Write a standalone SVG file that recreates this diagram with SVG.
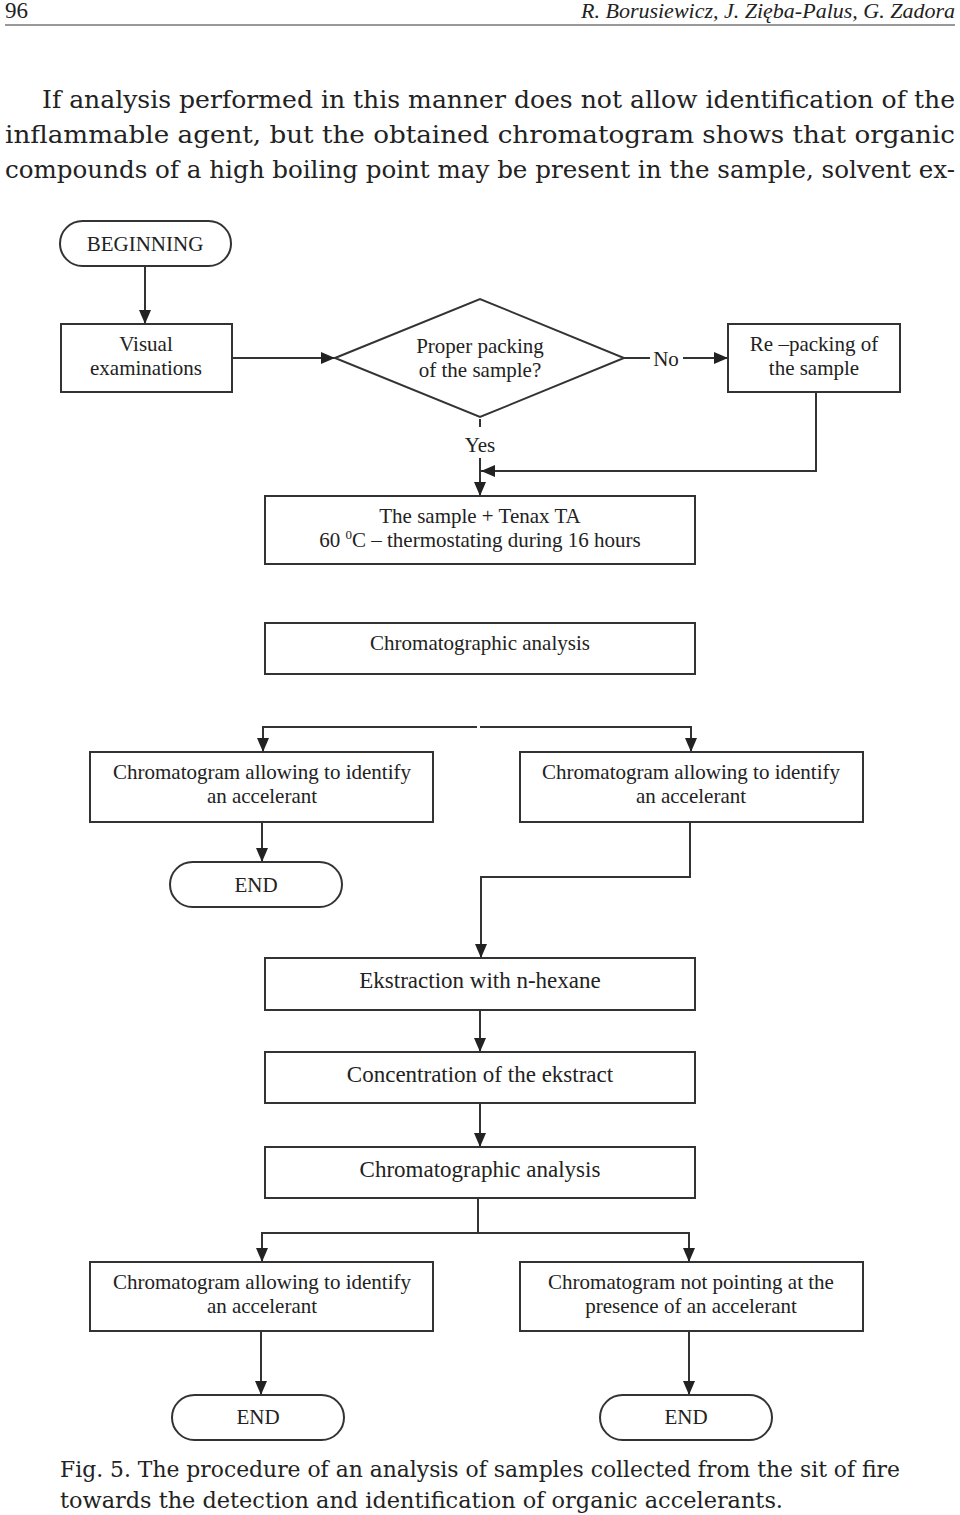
<svg xmlns="http://www.w3.org/2000/svg" width="960" height="1515" viewBox="0 0 960 1515">
<defs>
<marker id="ah" viewBox="0 0 14 12" refX="14" refY="6" markerWidth="14" markerHeight="12" markerUnits="userSpaceOnUse" orient="auto">
<path d="M0,0 L14,6 L0,12 Z" fill="#222"/>
</marker>
</defs>
<style>
.bx{fill:#fff;stroke:#333;stroke-width:2}
.ln{fill:none;stroke:#333;stroke-width:2}
.t{font-family:"Liberation Serif","Times New Roman",serif;font-size:21px;fill:#222;text-anchor:middle}
.tb{font-family:"Liberation Serif","Times New Roman",serif;font-size:23px;fill:#222;text-anchor:middle}
.p{font-family:"DejaVu Serif","Liberation Serif",serif;font-size:24px;fill:#222}
.c{font-family:"DejaVu Serif","Liberation Serif",serif;font-size:22px;fill:#222}
.h{font-family:"Liberation Serif","Times New Roman",serif;fill:#222}
</style>
<rect width="960" height="1515" fill="#fff"/>
<g id="header">
<text x="5" y="18" class="h" style="font-size:23px">96</text>
<text x="955" y="18" class="h" style="font-size:22px;font-style:italic;text-anchor:end">R. Borusiewicz, J. Zięba-Palus, G. Zadora</text>
<line x1="5" y1="25" x2="955" y2="25" stroke="#999" stroke-width="2"/>
</g>
<g id="paragraph">
<text x="42" y="108" class="p" textLength="913" lengthAdjust="spacingAndGlyphs">If analysis performed in this manner does not allow identification of the</text>
<text x="5" y="143" class="p" textLength="950" lengthAdjust="spacingAndGlyphs">inflammable agent, but the obtained chromatogram shows that organic</text>
<text x="5" y="178" class="p" textLength="950" lengthAdjust="spacingAndGlyphs">compounds of a high boiling point may be present in the sample, solvent ex-</text>
</g>
<g id="connectors">
<line class="ln" x1="145" y1="266" x2="145" y2="324" marker-end="url(#ah)"/>
<line class="ln" x1="232" y1="358" x2="335" y2="358" marker-end="url(#ah)"/>
<line class="ln" x1="624" y1="358" x2="650" y2="358"/>
<line class="ln" x1="683" y1="358" x2="728" y2="358" marker-end="url(#ah)"/>
<line class="ln" x1="480" y1="419" x2="480" y2="427"/>
<line class="ln" x1="480" y1="458" x2="480" y2="496" marker-end="url(#ah)"/>
<polyline class="ln" points="816,392 816,471 481,471" marker-end="url(#ah)"/>
<line class="ln" x1="262" y1="727" x2="477" y2="727"/>
<line class="ln" x1="480" y1="727" x2="692" y2="727"/>
<line class="ln" x1="263" y1="726" x2="263" y2="752" marker-end="url(#ah)"/>
<line class="ln" x1="691" y1="726" x2="691" y2="752" marker-end="url(#ah)"/>
<line class="ln" x1="262" y1="822" x2="262" y2="862" marker-end="url(#ah)"/>
<polyline class="ln" points="690,822 690,877 481,877 481,958" marker-end="url(#ah)"/>
<line class="ln" x1="480" y1="1010" x2="480" y2="1052" marker-end="url(#ah)"/>
<line class="ln" x1="480" y1="1103" x2="480" y2="1147" marker-end="url(#ah)"/>
<line class="ln" x1="478" y1="1198" x2="478" y2="1234"/>
<polyline class="ln" points="262,1262 262,1233 689,1233 689,1262"/>
<line class="ln" x1="262" y1="1240" x2="262" y2="1262" marker-end="url(#ah)"/>
<line class="ln" x1="689" y1="1240" x2="689" y2="1262" marker-end="url(#ah)"/>
<line class="ln" x1="261" y1="1331" x2="261" y2="1395" marker-end="url(#ah)"/>
<line class="ln" x1="689" y1="1331" x2="689" y2="1395" marker-end="url(#ah)"/>
</g>
<g id="beginning">
<rect class="bx" x="60" y="221" width="171" height="45" rx="22.5"/>
<text class="t" x="145" y="251">BEGINNING</text>
</g>
<g id="visual">
<rect class="bx" x="61" y="324" width="171" height="68"/>
<text class="t" x="146" y="351">Visual</text>
<text class="t" x="146" y="375">examinations</text>
</g>
<g id="decision">
<polygon class="bx" points="335,358 480,299 624,358 480,417"/>
<text class="t" x="480" y="353">Proper packing</text>
<text class="t" x="480" y="377">of the sample?</text>
<text class="t" x="666" y="366">No</text>
<text class="t" x="480" y="452">Yes</text>
</g>
<g id="repacking">
<rect class="bx" x="728" y="324" width="172" height="68"/>
<text class="t" x="814" y="351">Re –packing of</text>
<text class="t" x="814" y="375">the sample</text>
</g>
<g id="tenax">
<rect class="bx" x="265" y="496" width="430" height="68"/>
<text class="t" x="480" y="523">The sample + Tenax TA</text>
<text class="t" x="480" y="547">60 <tspan font-size="13" dy="-8">0</tspan><tspan dy="8">C – thermostating during 16 hours</tspan></text>
</g>
<g id="chrom1">
<rect class="bx" x="265" y="623" width="430" height="51"/>
<text class="t" x="480" y="650">Chromatographic analysis</text>
</g>
<g id="ident1">
<rect class="bx" x="90" y="752" width="343" height="70"/>
<text class="t" x="262" y="779">Chromatogram allowing to identify</text>
<text class="t" x="262" y="803">an accelerant</text>
</g>
<g id="ident2">
<rect class="bx" x="520" y="752" width="343" height="70"/>
<text class="t" x="691" y="779">Chromatogram allowing to identify</text>
<text class="t" x="691" y="803">an accelerant</text>
</g>
<g id="end1">
<rect class="bx" x="170" y="862" width="172" height="45" rx="22.5"/>
<text class="t" x="256" y="892">END</text>
</g>
<g id="extraction">
<rect class="bx" x="265" y="958" width="430" height="52"/>
<text class="tb" x="480" y="988">Ekstraction with n-hexane</text>
</g>
<g id="concentration">
<rect class="bx" x="265" y="1052" width="430" height="51"/>
<text class="tb" x="480" y="1082">Concentration of the ekstract</text>
</g>
<g id="chrom2">
<rect class="bx" x="265" y="1147" width="430" height="51"/>
<text class="tb" x="480" y="1177">Chromatographic analysis</text>
</g>
<g id="ident3">
<rect class="bx" x="90" y="1262" width="343" height="69"/>
<text class="t" x="262" y="1289">Chromatogram allowing to identify</text>
<text class="t" x="262" y="1313">an accelerant</text>
</g>
<g id="notident">
<rect class="bx" x="520" y="1262" width="343" height="69"/>
<text class="t" x="691" y="1289">Chromatogram not pointing at the</text>
<text class="t" x="691" y="1313">presence of an accelerant</text>
</g>
<g id="end2">
<rect class="bx" x="172" y="1395" width="172" height="45" rx="22.5"/>
<text class="t" x="258" y="1424">END</text>
</g>
<g id="end3">
<rect class="bx" x="600" y="1395" width="172" height="45" rx="22.5"/>
<text class="t" x="686" y="1424">END</text>
</g>
<g id="caption">
<text class="c" x="60" y="1477" textLength="840" lengthAdjust="spacingAndGlyphs">Fig. 5. The procedure of an analysis of samples collected from the sit of fire</text>
<text class="c" x="60" y="1508" textLength="723" lengthAdjust="spacingAndGlyphs">towards the detection and identification of organic accelerants.</text>
</g>
</svg>
